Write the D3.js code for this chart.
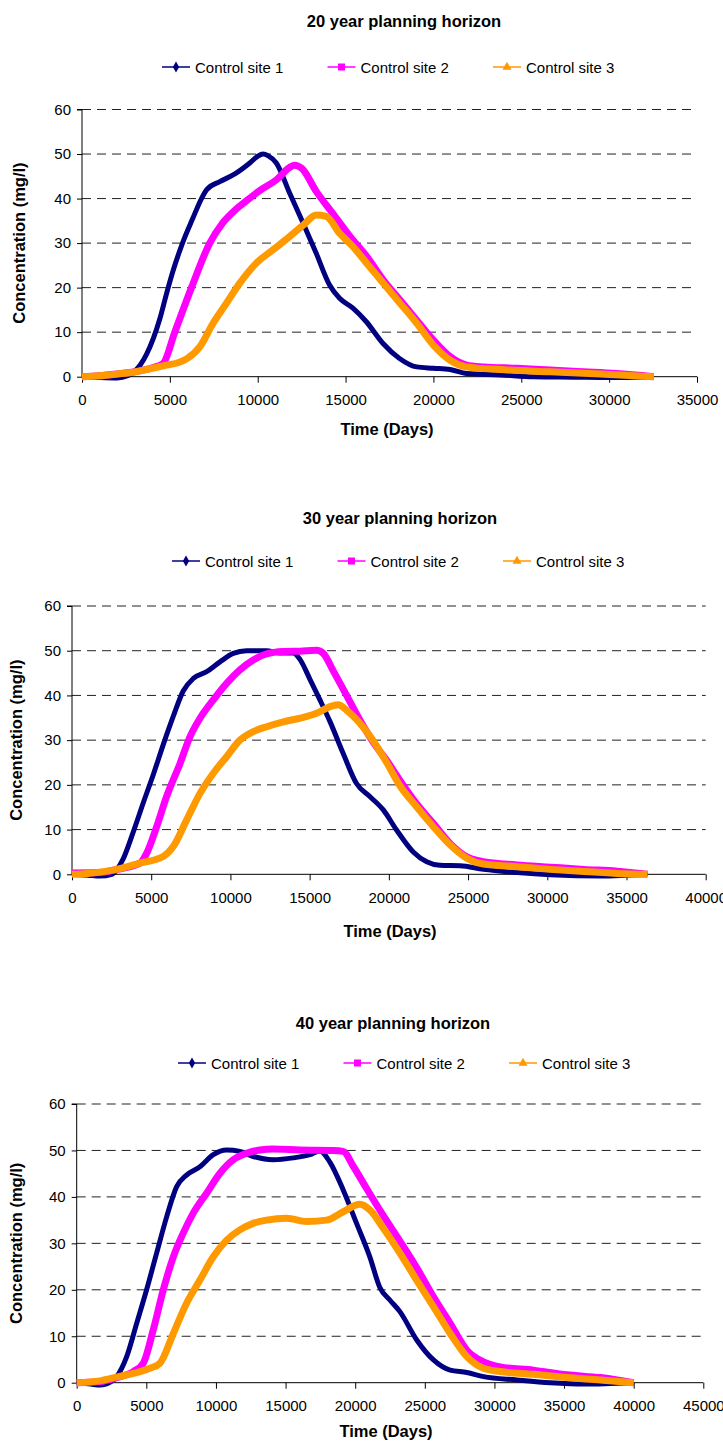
<!DOCTYPE html>
<html>
<head>
<meta charset="utf-8">
<script src="https://cdn.jsdelivr.net/npm/d3@7"></script>
<style>
  html, body { margin: 0; padding: 0; background: #fff; }
  svg { display: block; }
  text { font-family: "Liberation Sans", Arial, sans-serif; fill: #000; }
</style>
</head>
<body>
<svg id="chart" width="723" height="1443"></svg>
<script>
// ---------- DATA ----------
const seriesNames = ["Control site 1", "Control site 2", "Control site 3"];
const seriesColors = ["#000080", "#FF00FF", "#FF9900"];
const chartTitles = ["20 year planning horizon", "30 year planning horizon", "40 year planning horizon"];
const xAxisTitle = "Time (Days)";
const yAxisTitle = "Concentration (mg/l)";
const yTicks = [0, 10, 20, 30, 40, 50, 60];
const xTicks20 = [0, 5000, 10000, 15000, 20000, 25000, 30000, 35000];
const xTicks30 = [0, 5000, 10000, 15000, 20000, 25000, 30000, 35000, 40000];
const xTicks40 = [0, 5000, 10000, 15000, 20000, 25000, 30000, 35000, 40000, 45000];

// 20 year planning horizon
const h20Site1Days = [0, 1000, 2000, 2600, 3000, 3670, 4430, 4800, 5200, 5720, 6300, 6800, 7100, 7840, 8600, 9550, 10000, 10300, 10600, 11060, 11820, 12580, 13330, 14090, 14660, 15420, 16170, 17120, 18070, 19050, 20000, 20950, 21900, 23800, 25700, 28000, 30000, 32500];
const h20Site1Conc = [0, -0.2, -0.3, 0.2, 1.2, 5, 13, 18.5, 24, 30, 35.5, 40, 42, 43.8, 45.3, 48, 49.5, 50, 49.6, 48, 41.2, 34.5, 27.7, 20.6, 17.6, 15.4, 12.4, 7.5, 4.1, 2.2, 1.9, 1.6, 0.7, 0.4, 0, -0.1, -0.2, 0];
const h20Site2Days = [0, 1000, 2000, 3000, 4000, 4620, 5280, 6230, 7270, 8000, 8600, 9360, 10110, 11060, 11820, 12100, 12500, 13350, 14300, 15250, 16200, 17150, 18100, 19050, 20000, 20950, 21900, 22850, 24750, 26650, 28550, 30400, 32540];
const h20Site2Conc = [0, 0.2, 0.6, 1.1, 2, 3, 10, 20, 30, 34.5, 37, 39.5, 41.8, 44.2, 47, 47.5, 46.8, 41.5, 36.5, 31.5, 27, 21.7, 17.2, 12.7, 8.2, 4.5, 2.6, 2.2, 1.9, 1.5, 1.1, 0.7, 0];
const h20Site3Days = [0, 1000, 2000, 2900, 4000, 4810, 5500, 5950, 6700, 7460, 8220, 8980, 9920, 10870, 11820, 12580, 13330, 13900, 14660, 15420, 16200, 17150, 18100, 19050, 20000, 20950, 21900, 23800, 26650, 29500, 32540];
const h20Site3Conc = [0, 0.2, 0.6, 1, 1.9, 2.6, 3.2, 4, 6.7, 12, 16.5, 21, 25.5, 28.5, 31.5, 34, 36.3, 36, 32.2, 29.2, 25.5, 21, 16.5, 12, 7.1, 3.7, 2.2, 1.6, 1.1, 0.6, 0];

// 30 year planning horizon
const h30Site1Days = [0, 1000, 1770, 2500, 2820, 3240, 3870, 4500, 5150, 5760, 6390, 7020, 7660, 8500, 9340, 10180, 11020, 12280, 13120, 13960, 14400, 15020, 15650, 16280, 17120, 17960, 18800, 19650, 20490, 21540, 22390, 23230, 24500, 25980, 28090, 30200, 33370, 36320];
const h30Site1Conc = [0, -0.2, -0.4, 0, 1, 3.5, 9.5, 16, 22.5, 29, 35.3, 41, 43.8, 45.3, 47.5, 49.4, 50, 50, 49.5, 49.5, 48, 43.6, 39, 34.2, 27, 20.3, 17.4, 14.4, 9.9, 5, 2.8, 2, 1.9, 1.1, 0.4, -0.1, -0.4, 0];
const h30Site2Days = [0, 1770, 2820, 4290, 4710, 5340, 5970, 6820, 7450, 8080, 8920, 9760, 10600, 11440, 12280, 13340, 14390, 15440, 15860, 16490, 17330, 18170, 19020, 19860, 20700, 21750, 22800, 23860, 24920, 25970, 28080, 30190, 32300, 34410, 36320];
const h30Site2Conc = [0.3, 0.4, 1.1, 2.5, 4.7, 10.6, 17.4, 24.8, 30.8, 34.9, 39, 42.7, 45.7, 47.9, 49.3, 49.8, 49.9, 50.1, 49.4, 45.5, 40, 34.5, 29.5, 25.5, 21, 15.8, 11.4, 6.9, 3.9, 2.8, 2.1, 1.6, 1.1, 0.7, 0];
const h30Site3Days = [0, 1000, 2820, 4290, 5760, 6390, 7230, 8080, 8920, 9760, 10600, 11440, 12280, 13340, 14390, 15440, 16280, 16800, 17330, 18170, 19020, 19860, 20700, 21750, 22800, 23860, 24920, 25970, 28080, 30190, 32300, 34410, 36320];
const h30Site3Conc = [0, 0.2, 1.1, 2.5, 4, 6.2, 12.1, 18.1, 22.6, 26.3, 30, 31.9, 33, 34.1, 34.9, 36, 37.5, 37.9, 36.7, 33.8, 29.8, 25, 19.8, 15.1, 10.7, 6.6, 3.6, 2.3, 1.7, 1.1, 0.6, 0.2, 0];

// 40 year planning horizon
const h40Site1Days = [0, 1000, 1670, 2500, 2870, 3590, 4310, 5020, 5740, 6460, 7180, 7890, 8850, 9810, 10770, 11720, 12680, 14110, 15550, 16750, 17460, 18180, 19140, 20100, 21050, 21770, 22490, 23210, 24420, 25620, 26820, 28020, 29220, 31620, 34010, 36410, 40000];
const h40Site1Conc = [0, -0.3, -0.5, 0.3, 1.3, 5.6, 12.8, 20, 27.9, 35.7, 42.2, 44.7, 46.5, 49.1, 50.1, 49.8, 48.7, 48, 48.4, 49.1, 49.9, 47.5, 41.5, 34.3, 27.1, 20.5, 17.8, 15.3, 9.2, 4.9, 2.7, 2.2, 1.3, 0.6, 0, -0.3, 0];
const h40Site2Days = [0, 1670, 3000, 4070, 4780, 5500, 6220, 6940, 7650, 8370, 9330, 10290, 11240, 12200, 13160, 14110, 16030, 18420, 19140, 19860, 20820, 22010, 23210, 24410, 25620, 26820, 28020, 29210, 30410, 32800, 35200, 37600, 40000];
const h40Site2Conc = [0, 0.2, 1.2, 2.4, 4.2, 11.4, 20, 27.1, 32.2, 36.5, 40.8, 45.1, 48, 49.4, 50.1, 50.3, 50.1, 50, 49.8, 46.6, 41.8, 36, 30.5, 24.8, 18.5, 12.8, 7, 4.5, 3.4, 2.7, 1.7, 1.1, 0];
const h40Site3Days = [0, 1670, 3000, 4070, 5260, 5980, 6940, 7890, 8850, 9810, 10770, 11720, 12680, 13640, 15070, 16510, 17940, 19140, 20330, 21050, 22010, 23210, 24410, 25620, 26820, 28020, 29210, 30410, 32800, 35200, 37600, 40000];
const h40Site3Conc = [0, 0.4, 1.3, 2, 3.1, 4.2, 10.6, 17.1, 22.1, 27.1, 30.7, 32.9, 34.3, 35, 35.4, 34.7, 35, 36.8, 38.4, 37.2, 33.3, 27.9, 22.1, 16.4, 10.6, 5.6, 3.1, 2.4, 1.8, 1.1, 0.6, 0];

// ---------- BUILD ----------
const zip = (d, c) => d.map((v, i) => ({ x: v, y: c[i] }));
const charts = [
  { title: chartTitles[0], xTicks: xTicks20,
    series: [zip(h20Site1Days, h20Site1Conc), zip(h20Site2Days, h20Site2Conc), zip(h20Site3Days, h20Site3Conc)],
    L: { left: 82, right: 697, top: 109.5, bottom: 376.7, titleX: 404, titleY: 27, legendX: 162, legendY: 67, xTitleX: 387, xTitleY: 435, yTitleX: 25 } },
  { title: chartTitles[1], xTicks: xTicks30,
    series: [zip(h30Site1Days, h30Site1Conc), zip(h30Site2Days, h30Site2Conc), zip(h30Site3Days, h30Site3Conc)],
    L: { left: 72, right: 705.7, top: 606, bottom: 874.3, titleX: 400, titleY: 524, legendX: 172, legendY: 561, xTitleX: 390, xTitleY: 937, yTitleX: 22 } },
  { title: chartTitles[2], xTicks: xTicks40,
    series: [zip(h40Site1Days, h40Site1Conc), zip(h40Site2Days, h40Site2Conc), zip(h40Site3Days, h40Site3Conc)],
    L: { left: 76.7, right: 703.3, top: 1104, bottom: 1382.7, titleX: 393, titleY: 1029, legendX: 178, legendY: 1063, xTitleX: 386, xTitleY: 1437, yTitleX: 22 } }
];

const svg = d3.select("#chart");
svg.append("rect").attr("width", 723).attr("height", 1443).attr("fill", "#fff");
const strokeW = [5, 7, 7];

function marker(g, i, cx, cy) {
  const c = seriesColors[i];
  if (i === 0) {
    g.append("path").attr("d", d3.symbol(d3.symbolDiamond, 34)()).attr("transform", `translate(${cx},${cy})`).attr("fill", c);
  } else if (i === 1) {
    g.append("rect").attr("x", cx - 3.5).attr("y", cy - 3.5).attr("width", 7).attr("height", 7).attr("fill", c);
  } else {
    g.append("path").attr("d", d3.symbol(d3.symbolTriangle, 36)()).attr("transform", `translate(${cx},${cy})`).attr("fill", c);
  }
}

charts.forEach(ch => {
  const L = ch.L;
  const xMax = ch.xTicks[ch.xTicks.length - 1];
  const x = d3.scaleLinear().domain([0, xMax]).range([L.left, L.right]);
  const y = d3.scaleLinear().domain([0, 60]).range([L.bottom, L.top]);
  const g = svg.append("g");

  // title
  g.append("text").attr("x", L.titleX).attr("y", L.titleY).attr("text-anchor", "middle")
    .attr("font-size", 16.5).attr("font-weight", "bold").text(ch.title);

  // legend
  seriesNames.forEach((name, i) => {
    const lx = L.legendX + i * 165.5;
    g.append("line").attr("x1", lx).attr("x2", lx + 28).attr("y1", L.legendY).attr("y2", L.legendY)
      .attr("stroke", seriesColors[i]).attr("stroke-width", 1.5);
    marker(g, i, lx + 14, L.legendY);
    g.append("text").attr("x", lx + 33).attr("y", L.legendY + 5.5).attr("font-size", 15).text(name);
  });

  // gridlines
  g.append("g").selectAll("line").data(yTicks.filter(t => t > 0)).join("line")
    .attr("x1", L.left).attr("x2", L.right)
    .attr("y1", d => y(d)).attr("y2", d => y(d))
    .attr("stroke", "#222").attr("stroke-width", 1).attr("stroke-dasharray", "9,6");

  // axes
  const xa = g.append("g").attr("transform", `translate(0,${L.bottom})`)
    .call(d3.axisBottom(x).tickValues(ch.xTicks).tickFormat(d3.format("d")).tickSize(6).tickPadding(12));
  const ya = g.append("g").attr("transform", `translate(${L.left},0)`)
    .call(d3.axisLeft(y).tickValues(yTicks).tickSize(5).tickPadding(6));
  [xa, ya].forEach(a => {
    a.select(".domain").attr("stroke", "#000").attr("stroke-width", 1);
    a.selectAll(".tick line").attr("stroke", "#000");
    a.selectAll(".tick text").attr("font-size", 15).attr("font-family", '"Liberation Sans", Arial, sans-serif').attr("fill", "#000");
  });
  ya.select(".domain").attr("d", `M-5,${y(60)}H0V${y(0)}`);
  xa.select(".domain").attr("d", `M${x(0)},0H${x(xMax)}`);

  // axis titles
  g.append("text").attr("x", L.xTitleX).attr("y", L.xTitleY).attr("text-anchor", "middle")
    .attr("font-size", 16.5).attr("font-weight", "bold").text(xAxisTitle);
  g.append("text").attr("transform", `translate(${L.yTitleX},${(L.top + L.bottom) / 2}) rotate(-90)`)
    .attr("text-anchor", "middle").attr("font-size", 16.5).attr("font-weight", "bold").text(yAxisTitle);

  // series
  const line = d3.line().x(d => x(d.x)).y(d => y(d.y)).curve(d3.curveMonotoneX);
  ch.series.forEach((s, i) => {
    g.append("path").datum(s).attr("d", line).attr("fill", "none")
      .attr("stroke", seriesColors[i]).attr("stroke-width", strokeW[i])
      .attr("stroke-linejoin", "round").attr("stroke-linecap", "butt");
  });
});
</script>
</body>
</html>
